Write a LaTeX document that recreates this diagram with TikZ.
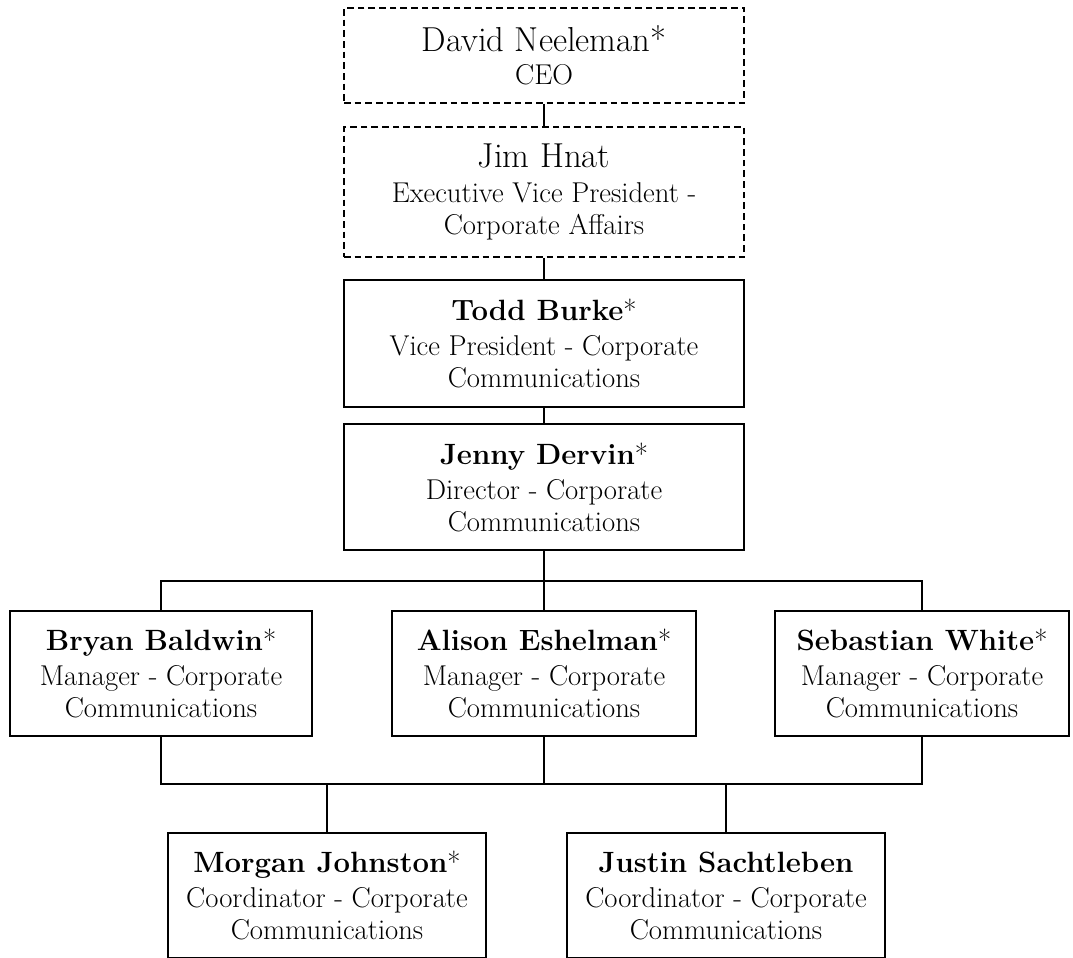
\documentclass[tikz,border=0pt]{standalone}
\usepackage{tikz}
\newcommand{\namefont}{\fontsize{22}{26}\selectfont\bfseries}
\newcommand{\bossfont}{\fontsize{26}{30}\selectfont}
\newcommand{\rolefont}{\fontsize{21.5}{24}\selectfont}
\tikzstyle{orgbox} = [draw=black, line width=1.2pt, rectangle, fill=white,
    align=center, inner sep=0pt, minimum height=93.75pt, font=\rolefont]
\tikzstyle{ghostbox} = [orgbox, dash pattern=on 5pt off 3pt]
\tikzstyle{orgline} = [draw=black, line width=1.2pt]

\begin{document}
\begin{tikzpicture}[x=0.75pt, y=-0.75pt]
\useasboundingbox (0,0) rectangle (1073,957);
% top of the chain
\node [ghostbox, minimum width=300pt, minimum height=71.25pt] (neeleman) at (544,55.5) {
    {\bossfont David Neeleman*}\\[1pt] CEO};
\node [ghostbox, minimum width=300pt, minimum height=97.5pt] (hnat) at (544,192) {
    {\bossfont Jim Hnat}\\[2pt] Executive Vice President -\\ Corporate Affairs};
\node [orgbox, minimum width=300pt, minimum height=95.25pt] (burke) at (544,343.5) {
    {\namefont Todd Burke}*\\[2.25pt] Vice President - Corporate\\ Communications};
\node [orgbox, minimum width=300pt, minimum height=94.5pt] (dervin) at (544,487) {
    {\namefont Jenny Dervin}*\\[2.25pt] Director - Corporate\\ Communications};
% managers
\node [orgbox, minimum width=226.5pt] (baldwin) at (161,673.5) {
    {\namefont Bryan Baldwin}*\\[2.25pt] Manager - Corporate\\ Communications};
\node [orgbox, minimum width=228pt] (eshelman) at (544,673.5) {
    {\namefont Alison Eshelman}*\\[2.25pt] Manager - Corporate\\ Communications};
\node [orgbox, minimum width=220.5pt] (white) at (922,673.5) {
    {\namefont Sebastian White}*\\[2.25pt] Manager - Corporate\\ Communications};
% coordinators
\node [orgbox, minimum width=238.5pt] (johnston) at (327,895.5) {
    {\namefont Morgan Johnston}*\\[2.25pt] Coordinator - Corporate\\ Communications};
\node [orgbox, minimum width=238.5pt] (sachtleben) at (726,895.5) {
    {\namefont Justin Sachtleben}\\[2.25pt] Coordinator - Corporate\\ Communications};

\coordinate (upbus) at (544,581);
\coordinate (lowbus) at (544,784);

\draw [orgline] (neeleman) -- (hnat);
\draw [orgline] (hnat) -- (burke);
\draw [orgline] (burke) -- (dervin);
\draw [orgline] (dervin) -- (eshelman);
\draw [orgline] (baldwin.north) |- (upbus) -| (white.north);
\draw [orgline] (baldwin.south) |- (lowbus) -| (white.south);
\draw [orgline] (eshelman) -- (lowbus);
\draw [orgline] (johnston.north) |- (lowbus) -| (sachtleben.north);
\end{tikzpicture}
\end{document}
